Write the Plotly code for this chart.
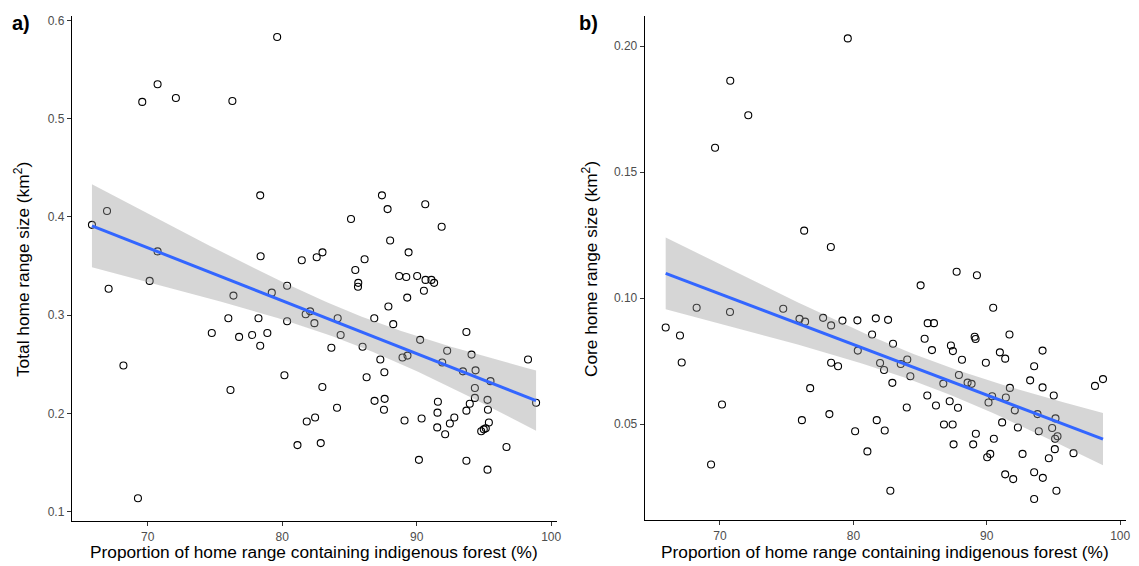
import numpy as np
import plotly.graph_objects as go

# Panel a: total home range size vs % indigenous forest
forest_a = [65.86, 66.98, 67.10, 68.20, 69.28, 69.60, 70.15, 70.74, 70.74, 72.10,
            74.77, 76.00, 76.16, 76.30, 76.38, 76.80, 77.77, 78.24, 78.37, 78.37,
            78.40, 78.90, 79.23, 79.63, 80.17, 80.37, 80.37, 81.14, 81.46, 81.75,
            81.83, 82.08, 82.40, 82.45, 82.57, 82.87, 82.99, 83.00, 83.66, 84.08,
            84.13, 84.35, 85.12, 85.44, 85.64, 85.66, 85.98, 86.13, 86.28, 86.85,
            86.87, 87.30, 87.42, 87.57, 87.60, 87.62, 87.84, 87.90, 88.03, 88.26,
            88.70, 88.95, 89.10, 89.23, 89.30, 89.32, 89.40, 90.04, 90.17, 90.26,
            90.37, 90.54, 90.64, 90.66, 91.10, 91.30, 91.53, 91.55, 91.58, 91.86,
            91.90, 92.12, 92.27, 92.47, 92.80, 93.44, 93.70, 93.70, 93.70, 93.95,
            94.08, 94.33, 94.33, 94.38, 94.80, 94.99, 95.14, 95.27, 95.27, 95.30,
            95.37, 95.49, 96.68, 98.28, 98.88]
total_hr = [0.392, 0.406, 0.327, 0.249, 0.114, 0.517, 0.335, 0.535, 0.365, 0.521,
            0.282, 0.297, 0.224, 0.518, 0.320, 0.278, 0.280, 0.297, 0.269, 0.422,
            0.360, 0.282, 0.323, 0.583, 0.239, 0.330, 0.294, 0.168, 0.356, 0.301,
            0.192, 0.304, 0.292, 0.196, 0.359, 0.170, 0.227, 0.364, 0.267, 0.206,
            0.297, 0.280, 0.398, 0.346, 0.329, 0.333, 0.268, 0.357, 0.237, 0.297,
            0.213, 0.255, 0.422, 0.204, 0.242, 0.215, 0.408, 0.309, 0.376, 0.291,
            0.340, 0.257, 0.193, 0.339, 0.318, 0.259, 0.364, 0.340, 0.153, 0.275,
            0.195, 0.325, 0.413, 0.336, 0.336, 0.333, 0.186, 0.201, 0.212, 0.390,
            0.252, 0.179, 0.264, 0.190, 0.196, 0.243, 0.283, 0.203, 0.152, 0.210,
            0.260, 0.226, 0.216, 0.244, 0.182, 0.184, 0.185, 0.214, 0.143, 0.204,
            0.191, 0.233, 0.166, 0.255, 0.211]

# Panel b: core home range size vs % indigenous forest
forest_b = [79.58, 70.77, 72.12, 69.63, 76.31, 78.31, 65.93, 68.25, 67.00, 67.13,
            70.75, 70.15, 69.33, 74.74, 75.96, 76.38, 77.73, 78.33, 79.18, 80.30,
            81.68, 82.60, 81.40, 80.33, 78.33, 78.85, 82.00, 82.30, 76.76, 78.20,
            76.14, 80.13, 81.75, 82.35, 81.05, 87.74, 89.26, 85.04, 90.48, 85.57,
            86.04, 89.09, 89.16, 91.70, 85.34, 82.97, 87.31, 87.46, 85.89, 90.98,
            91.38, 94.18, 88.14, 89.93, 93.55, 83.55, 84.04, 84.27, 82.92, 87.91,
            86.74, 88.56, 88.86, 93.25, 94.18, 98.11, 98.71, 91.73, 95.02, 90.40,
            90.13, 91.43, 85.54, 87.22, 86.19, 87.84, 84.00, 92.10, 93.80, 95.15,
            86.79, 87.44, 91.15, 92.33, 94.90, 93.90, 95.30, 95.12, 89.18, 90.53,
            87.51, 88.98, 95.10, 96.50, 92.68, 94.65, 90.26, 90.03, 91.38, 91.98,
            93.55, 94.20, 82.77, 95.22, 93.55]
core_hr = [0.2031, 0.1863, 0.1726, 0.1597, 0.1268, 0.1203, 0.0884, 0.0962, 0.0852, 0.0745,
           0.0945, 0.0578, 0.0340, 0.0958, 0.0918, 0.0907, 0.0922, 0.0892, 0.0911, 0.0912,
           0.0920, 0.0914, 0.0856, 0.0792, 0.0744, 0.0730, 0.0743, 0.0715, 0.0643, 0.0540,
           0.0516, 0.0472, 0.0516, 0.0475, 0.0392, 0.1105, 0.1091, 0.1051, 0.0962, 0.0901,
           0.0901, 0.0847, 0.0838, 0.0856, 0.0839, 0.0819, 0.0812, 0.0790, 0.0794, 0.0785,
           0.0760, 0.0792, 0.0756, 0.0744, 0.0730, 0.0739, 0.0757, 0.0690, 0.0664, 0.0695,
           0.0661, 0.0665, 0.0660, 0.0674, 0.0646, 0.0652, 0.0679, 0.0644, 0.0614, 0.0611,
           0.0586, 0.0606, 0.0614, 0.0591, 0.0574, 0.0565, 0.0566, 0.0555, 0.0540, 0.0523,
           0.0499, 0.0499, 0.0507, 0.0487, 0.0485, 0.0472, 0.0452, 0.0442, 0.0462, 0.0442,
           0.0420, 0.0420, 0.0401, 0.0385, 0.0382, 0.0365, 0.0382, 0.0369, 0.0301, 0.0282,
           0.0309, 0.0287, 0.0236, 0.0236, 0.0203]

x_ticks = [70, 80, 90, 100]
x_title = "Proportion of home range containing indigenous forest (%)"
y_title_a = "Total home range size (km<sup>2</sup>)"
y_title_b = "Core home range size (km<sup>2</sup>)"

FONT = "Liberation Sans, Arial, Helvetica, sans-serif"
T_CRIT = 1.983  # t(0.975, df=103)


def lm_fit(x, y, n=80):
    x = np.asarray(x, float)
    y = np.asarray(y, float)
    b1, b0 = np.polyfit(x, y, 1)
    resid = y - (b0 + b1 * x)
    s = np.sqrt(np.sum(resid ** 2) / (len(x) - 2))
    xg = np.linspace(x.min(), x.max(), n)
    yg = b0 + b1 * xg
    se = s * np.sqrt(1 / len(x) + (xg - x.mean()) ** 2 / np.sum((x - x.mean()) ** 2))
    return xg, yg, yg - T_CRIT * se, yg + T_CRIT * se


fig = go.Figure()

for xs, ys, xa, ya in [(forest_a, total_hr, "x", "y"), (forest_b, core_hr, "x2", "y2")]:
    fig.add_trace(go.Scatter(x=xs, y=ys, mode="markers", xaxis=xa, yaxis=ya,
                             marker=dict(symbol="circle-open", size=7, color="black",
                                         line=dict(width=1.1, color="black")),
                             showlegend=False, hoverinfo="skip"))
    xg, yg, lo, hi = lm_fit(xs, ys)
    fig.add_trace(go.Scatter(x=xg, y=lo, mode="lines", line=dict(width=0),
                             xaxis=xa, yaxis=ya, showlegend=False, hoverinfo="skip"))
    fig.add_trace(go.Scatter(x=xg, y=hi, mode="lines", line=dict(width=0),
                             fill="tonexty", fillcolor="rgba(153,153,153,0.4)",
                             xaxis=xa, yaxis=ya, showlegend=False, hoverinfo="skip"))
    fig.add_trace(go.Scatter(x=xg, y=yg, mode="lines", line=dict(color="#3366FF", width=3),
                             xaxis=xa, yaxis=ya, showlegend=False, hoverinfo="skip"))

W, H = 1139, 566
OFF = 8  # page body margin of the browser


def px(v):
    return (v - OFF) / W


def py(v):
    return 1 - (v - OFF) / H


axis_common = dict(showgrid=False, zeroline=False, showline=True, linecolor="black",
                   linewidth=1.1, ticks="outside", ticklen=4, tickcolor="#333333",
                   tickwidth=1.1, tickfont=dict(family=FONT, size=12, color="#4d4d4d"))

fig.update_layout(
    width=W, height=H, margin=dict(l=0, r=0, t=0, b=0),
    paper_bgcolor="white", plot_bgcolor="white",
    font=dict(family=FONT),
    xaxis=dict(domain=[px(72), px(559)], range=[64.36, 100.44], tickvals=x_ticks,
               anchor="y", **axis_common),
    yaxis=dict(domain=[py(521), py(14)], range=[0.0906, 0.6044],
               tickvals=[0.1, 0.2, 0.3, 0.4, 0.5, 0.6], tickformat=".1f",
               anchor="x", **axis_common),
    xaxis2=dict(domain=[px(647), px(1130)], range=[64.36, 100.44], tickvals=x_ticks,
                anchor="y2", **axis_common),
    yaxis2=dict(domain=[py(520), py(14)], range=[0.0119, 0.2120],
                tickvals=[0.05, 0.10, 0.15, 0.20], tickformat=".2f",
                anchor="x2", **axis_common),
)

ann = []
title_font = dict(family=FONT, size=17.3, color="black")
for cx in [(72 + 559) / 2, (647 + 1130) / 2]:
    ann.append(dict(text=x_title, x=px(cx), y=py(552), xref="paper", yref="paper",
                    showarrow=False, font=title_font, xanchor="center", yanchor="middle"))
for cx, t in [(22, y_title_a), (592, y_title_b)]:
    ann.append(dict(text=t, x=px(cx), y=py(268), xref="paper", yref="paper",
                    textangle=-90, showarrow=False, font=title_font,
                    xanchor="center", yanchor="middle"))
for cx, t in [(21, "a)"), (591, "b)")]:
    ann.append(dict(text="<b>" + t + "</b>", x=px(cx), y=py(21), xref="paper",
                    yref="paper", showarrow=False,
                    font=dict(family=FONT, size=20, color="black"),
                    xanchor="center", yanchor="middle"))
fig.update_layout(annotations=ann)

fig.write_html("out.html")
